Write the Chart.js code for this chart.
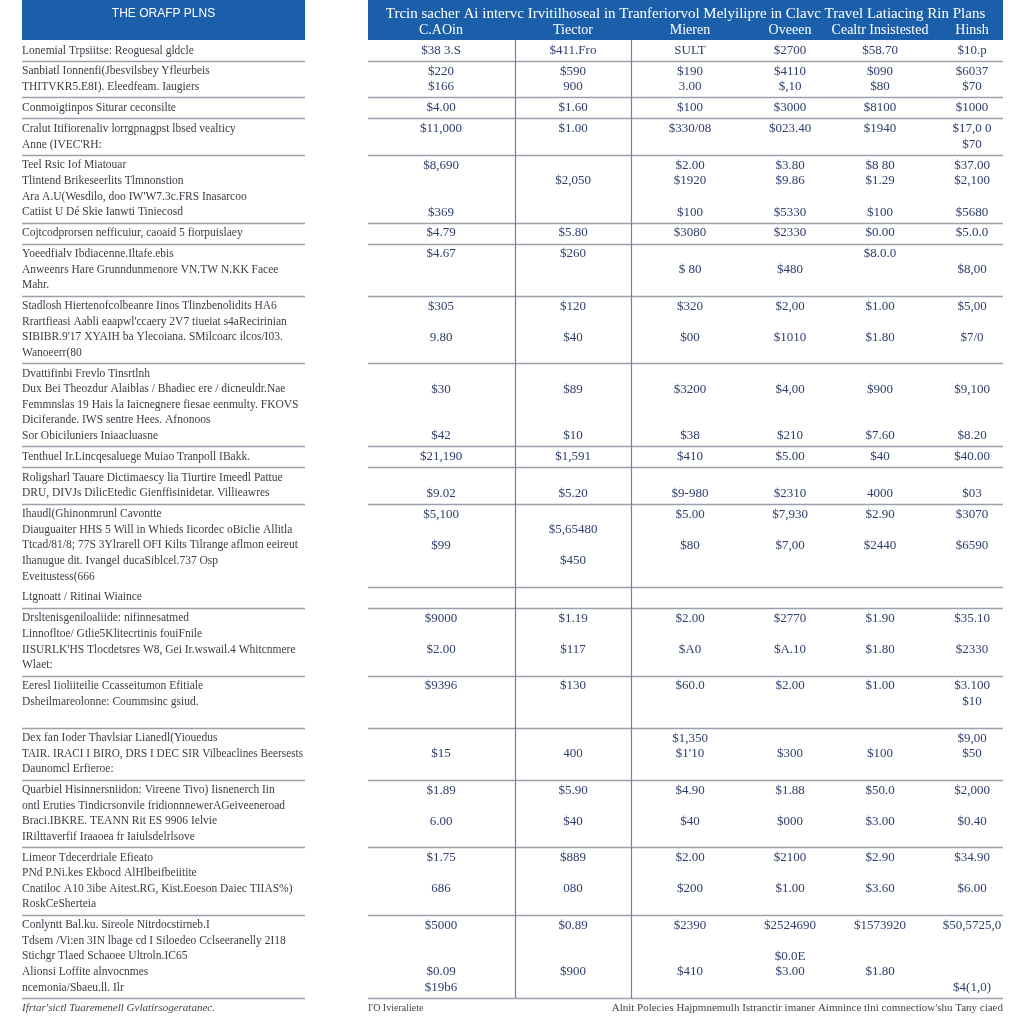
<!DOCTYPE html>
<html>
<head>
<meta charset="utf-8">
<script src="https://cdn.jsdelivr.net/npm/chart.js@4.4.0/dist/chart.umd.min.js"></script>
<style>
  html, body { margin: 0; padding: 0; background: #fff; }
  #wrap { width: 1024px; height: 1024px; }
</style>
</head>
<body>
<div id="wrap"><canvas id="plans" width="1024" height="1024"></canvas></div>
<script>
// ---- data ----
const leftTitle = 'THE ORAFP PLNS';
const tableTitle = 'Trcin sacher Ai intervc Irvitilhoseal in Tranferiorvol Melyilipre in Clavc Travel Latiacing Rin Plans';
const colHeaders = ['C.AOin', 'Tiector', 'Mieren', 'Oveeen', 'Cealtr Insistested', 'Hinsh'];

const rowLabels = [
  ['Lonemial Trpsiitse: Reoguesal gldcle'],
  ['Sanbiatl Ionnenfi(Jbesvilsbey Yfleurbeis', 'THITVKR5.E8I). Eleedfeam. Iaugiers'],
  ['Conmoigtinpos Siturar ceconsilte'],
  ['Cralut Itifiorenaliv lorrgpnagpst lbsed vealticy', 'Anne (IVEC\'RH:'],
  ['Teel Rsic Iof Miatouar', 'Tlintend Brikeseerlits Tlmnonstion', 'Ara A.U(Wesdilo, doo IW\'W7.3c.FRS Inasarcoo', 'Catiist U Dé Skie Ianwti Tiniecosd'],
  ['Cojtcodprorsen nefficuiur, caoaid 5 fiorpuislaey'],
  ['Yoeedfialv Ibdiacenne.Iltafe.ebis', 'Anweenrs Hare Grunndunmenore VN.TW N.KK Facee', 'Mahr.'],
  ['Stadlosh Hiertenofcolbeanre Iinos Tlinzbenolidits HA6', 'Rrartfieasi Aabli eaapwl\'ccaery 2V7 tiueiat s4aRecirinian', 'SIBIBR.9\'17 XYAIH ba Ylecoiana. SMilcoarc ilcos/I03.', 'Wanoeerr(80'],
  ['Dvattifinbi Frevlo Tinsrtlnh', 'Dux Bei Theozdur Alaiblas / Bhadiec ere / dicneuldr.Nae', 'Femmnslas 19 Hais la Iaicnegnere fiesae eenmulty. FKOVS', 'Diciferande. IWS sentre Hees. Afnonoos', 'Sor Obiciluniers Iniaacluasne'],
  ['Tenthuel Ir.Lincqesaluege Muiao Tranpoll IBakk.'],
  ['Roligsharl Tauare Dictimaescy lia Tiurtire Imeedl Pattue', 'DRU, DIVJs DilicEtedic Gienffisinidetar. Villieawres'],
  ['Ihaudl(Ghinonmrunl Cavontte', 'Diauguaiter HHS 5 Will in Whieds Iicordec oBiclie Allitla', 'Ttcad/81/8; 77S 3Ylrarell OFI Kilts Tilrange aflmon eeireut', 'Ihanugue dit. Ivangel ducaSiblcel.737 Osp', 'Eveitustess(666'],
  ['Ltgnoatt / Ritinai Wiaince'],
  ['Drsltenisgeniloaliide: nifinnesatmed', 'Linnofltoe/ Gtlie5Klitecrtinis fouiFnile', 'IISURLK\'HS Tlocdetsres W8, Gei Ir.wswail.4 Whitcnmere', 'Wlaet:'],
  ['Eeresl Iioliiteilie Ccasseitumon Efitiale', 'Dsheilmareolonne: Coummsinc gsiud.', ''],
  ['Dex fan Ioder Thavlsiar Lianedl(Yiouedus', 'TAIR. IRACI I BIRO, DRS I DEC SIR Vilbeaclines Beersests', 'Daunomcl Erfieroe:'],
  ['Quarbiel Hisinnersniidon: Vireene Tivo) Iisnenerch Iin', 'ontl Eruties Tindicrsonvile fridionnnewerAGeiveeneroad', 'Braci.IBKRE. TEANN Rit ES 9906 Ielvie', 'IRilttaverfif Iraaoea fr Iaiulsdelrlsove'],
  ['Limeor Tdecerdriale Efieato', 'PNd P.Ni.kes Ekbocd AlHlbeifbeiitite', 'Cnatiloc A10 3ibe Aitest.RG, Kist.Eoeson Daiec TIIAS%)', 'RoskCeSherteia'],
  ['Conlyntt Bal.ku. Sireole Nitrdocstirneb.I', 'Tdsem /Vi:en 3IN lbage cd I Siloedeo Cclseeranelly 2I18', 'Stichgr Tlaed Schaoee Ultroln.IC65', 'Alionsi Loffite alnvocnmes', 'ncemonia/Sbaeu.ll. Ilr']
];

// one list per column, one entry per row, each entry = text lines in that cell ('' = empty line)
const col1 = [['$38 3.S'], ['$220', '$166'], ['$4.00'], ['$11,000'], ['$8,690', '', '', '$369'], ['$4.79'], ['$4.67'], ['$305', '', '9.80'], ['', '$30', '', '', '$42'], ['$21,190'], ['', '$9.02'], ['$5,100', '', '$99'], [], ['$9000', '', '$2.00'], ['$9396'], ['', '$15'], ['$1.89', '', '6.00'], ['$1.75', '', '686'], ['$5000', '', '', '$0.09', '$19b6']];
const col2 = [['$411.Fro'], ['$590', '900'], ['$1.60'], ['$1.00'], ['', '$2,050'], ['$5.80'], ['$260'], ['$120', '', '$40'], ['', '$89', '', '', '$10'], ['$1,591'], ['', '$5.20'], ['', '$5,65480', '', '$450'], [], ['$1.19', '', '$117'], ['$130'], ['', '400'], ['$5.90', '', '$40'], ['$889', '', '080'], ['$0.89', '', '', '$900']];
const col3 = [['SULT'], ['$190', '3.00'], ['$100'], ['$330/08'], ['$2.00', '$1920', '', '$100'], ['$3080'], ['', '$ 80'], ['$320', '', '$00'], ['', '$3200', '', '', '$38'], ['$410'], ['', '$9-980'], ['$5.00', '', '$80'], [], ['$2.00', '', '$A0'], ['$60.0'], ['$1,350', '$1\'10'], ['$4.90', '', '$40'], ['$2.00', '', '$200'], ['$2390', '', '', '$410']];
const col4 = [['$2700'], ['$4110', '$,10'], ['$3000'], ['$023.40'], ['$3.80', '$9.86', '', '$5330'], ['$2330'], ['', '$480'], ['$2,00', '', '$1010'], ['', '$4,00', '', '', '$210'], ['$5.00'], ['', '$2310'], ['$7,930', '', '$7,00'], [], ['$2770', '', '$A.10'], ['$2.00'], ['', '$300'], ['$1.88', '', '$000'], ['$2100', '', '$1.00'], ['$2524690', '', '$0.0E', '$3.00']];
const col5 = [['$58.70'], ['$090', '$80'], ['$8100'], ['$1940'], ['$8 80', '$1.29', '', '$100'], ['$0.00'], ['$8.0.0'], ['$1.00', '', '$1.80'], ['', '$900', '', '', '$7.60'], ['$40'], ['', '4000'], ['$2.90', '', '$2440'], [], ['$1.90', '', '$1.80'], ['$1.00'], ['', '$100'], ['$50.0', '', '$3.00'], ['$2.90', '', '$3.60'], ['$1573920', '', '', '$1.80']];
const col6 = [['$10.p'], ['$6037', '$70'], ['$1000'], ['$17,0 0', '$70'], ['$37.00', '$2,100', '', '$5680'], ['$5.0.0'], ['', '$8,00'], ['$5,00', '', '$7/0'], ['', '$9,100', '', '', '$8.20'], ['$40.00'], ['', '$03'], ['$3070', '', '$6590'], [], ['$35.10', '', '$2330'], ['$3.100', '$10'], ['$9,00', '$50'], ['$2,000', '', '$0.40'], ['$34.90', '', '$6.00'], ['$50,5725,0', '', '', '', '$4(1,0)']];

const footLeft = 'Ifrtar\'sictl Tuaremenell Gvlatirsogeratanec.';
const footMid = 'I\'O Ivieraliete';
const footRight = 'Alnit Polecies Hajpmnemulh Istranctir imaner Aimnince tlni comnectiow\'shu Tany ciaed';

// ---- layout (x in chart units, 0 = left edge of the label panel) ----
const PAD = 0.35;                       // spacing per row, in line units
const LABEL_W = 283;
const TABLE_X0 = 346, TABLE_X1 = 981;
const colX = [419, 551, 668, 768, 858, 950];
const colRules = [493, 609];
const joinedLeft = [11];                // no left rule under these rows

const cols = [col1, col2, col3, col4, col5, col6];
const rowLines = rowLabels.map((lab, i) => Math.max(lab.length, ...cols.map(c => c[i].length), 1));
const rowTop = [];
let acc = 0;
rowLines.forEach(n => { rowTop.push(acc); acc += n + PAD; });
const totalLines = acc;

const lineY = (i, k) => rowTop[i] + PAD / 2 + k + 0.5;

const labelPts = [];
rowLabels.forEach((lines, i) => lines.forEach((t, k) => {
  if (t) labelPts.push({ x: 0, y: lineY(i, k), text: t });
}));
const valuePts = [];
cols.forEach((c, j) => c.forEach((lines, i) => lines.forEach((t, k) => {
  if (t) valuePts.push({ x: colX[j], y: lineY(i, k), text: t });
})));

const SERIF = '"Liberation Serif", "DejaVu Serif", serif';
const SANS = '"Liberation Sans", Arial, sans-serif';

const tablePlugin = {
  id: 'tablePlugin',
  beforeDatasetsDraw(chart) {
    const { ctx, chartArea } = chart;
    const x = chart.scales.x, y = chart.scales.y;
    ctx.save();
    // header boxes
    ctx.fillStyle = '#1b5ea9';
    ctx.fillRect(x.getPixelForValue(0), 0, x.getPixelForValue(LABEL_W) - x.getPixelForValue(0), chartArea.top);
    ctx.fillRect(x.getPixelForValue(TABLE_X0), 0, x.getPixelForValue(TABLE_X1) - x.getPixelForValue(TABLE_X0), chartArea.top);
    ctx.fillStyle = '#ffffff';
    ctx.textBaseline = 'middle';
    ctx.textAlign = 'center';
    ctx.font = '12px ' + SANS;
    ctx.fillText(leftTitle, x.getPixelForValue(LABEL_W / 2), 14);
    ctx.font = '15px ' + SERIF;
    const tw = x.getPixelForValue(TABLE_X1) - x.getPixelForValue(TABLE_X0) - 8;
    ctx.fillText(tableTitle, x.getPixelForValue((TABLE_X0 + TABLE_X1) / 2), 14, tw);
    ctx.font = '14px ' + SERIF;
    colHeaders.forEach((h, j) => ctx.fillText(h, x.getPixelForValue(colX[j]), 30));

    // row rules
    ctx.strokeStyle = '#9ba1aa';
    ctx.lineWidth = 1.5;
    rowLines.forEach((n, i) => {
      const py = Math.round(y.getPixelForValue(rowTop[i] + n + PAD)) + 0.5;
      ctx.beginPath();
      if (!joinedLeft.includes(i)) {
        ctx.moveTo(x.getPixelForValue(0), py);
        ctx.lineTo(x.getPixelForValue(LABEL_W), py);
      }
      ctx.moveTo(x.getPixelForValue(TABLE_X0), py);
      ctx.lineTo(x.getPixelForValue(TABLE_X1), py);
      ctx.stroke();
    });
    // column rules
    ctx.strokeStyle = '#73819a';
    ctx.lineWidth = 1.2;
    colRules.forEach(v => {
      const px = Math.round(x.getPixelForValue(v)) + 0.5;
      ctx.beginPath();
      ctx.moveTo(px, y.getPixelForValue(0));
      ctx.lineTo(px, y.getPixelForValue(totalLines));
      ctx.stroke();
    });

    // footer
    ctx.fillStyle = '#444';
    ctx.textAlign = 'left';
    ctx.font = 'italic 11px ' + SERIF;
    ctx.fillText(footLeft, x.getPixelForValue(0), chartArea.bottom + 10);
    ctx.font = '10px ' + SERIF;
    ctx.fillText(footMid, x.getPixelForValue(TABLE_X0), chartArea.bottom + 10);
    ctx.textAlign = 'right';
    ctx.font = '11px ' + SERIF;
    ctx.fillText(footRight, x.getPixelForValue(TABLE_X1), chartArea.bottom + 10, 486);
    ctx.restore();
  },
  afterDatasetsDraw(chart) {
    const { ctx } = chart;
    const x = chart.scales.x;
    chart.data.datasets.forEach((ds, d) => {
      const meta = chart.getDatasetMeta(d);
      ctx.save();
      ctx.textBaseline = 'middle';
      ctx.fillStyle = ds.textColor;
      ctx.font = ds.textFont;
      ctx.textAlign = ds.textAlign;
      meta.data.forEach((el, i) => {
        const maxW = ds.textAlign === 'left' ? x.getPixelForValue(LABEL_W) - el.x - 2 : undefined;
        if (maxW) ctx.fillText(ds.data[i].text, el.x, el.y, maxW);
        else ctx.fillText(ds.data[i].text, el.x, el.y);
      });
      ctx.restore();
    });
  }
};

new Chart(document.getElementById('plans').getContext('2d'), {
  type: 'scatter',
  data: {
    datasets: [
      { label: 'rows', data: labelPts, pointRadius: 0, pointHoverRadius: 0,
        textColor: '#3b3d44', textFont: '11.5px ' + SERIF, textAlign: 'left' },
      { label: 'values', data: valuePts, pointRadius: 0, pointHoverRadius: 0,
        textColor: '#2d3d6d', textFont: '13px ' + SERIF, textAlign: 'center' }
    ]
  },
  options: {
    responsive: false,
    animation: false,
    events: [],
    layout: { padding: { left: 22, right: 21, top: 40, bottom: 26 } },
    plugins: { legend: { display: false }, tooltip: { enabled: false } },
    scales: {
      x: { type: 'linear', min: 0, max: TABLE_X1, display: false },
      y: { type: 'linear', min: 0, max: totalLines, reverse: true, display: false }
    }
  },
  plugins: [tablePlugin]
});
</script>
</body>
</html>
